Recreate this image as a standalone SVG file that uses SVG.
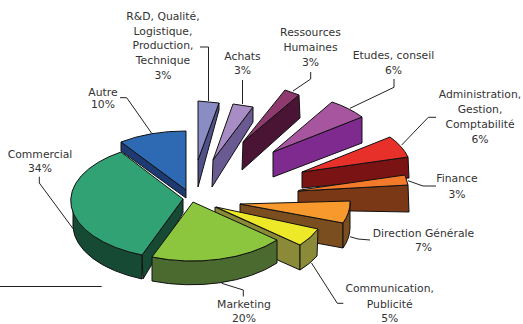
<svg xmlns="http://www.w3.org/2000/svg" width="523" height="324" viewBox="0 0 523 324">
<style>
.s{stroke:#111;stroke-width:1;stroke-linejoin:round}
.lbl{font-family:"DejaVu Sans","Liberation Sans",sans-serif;font-size:10.8px;fill:#333;text-anchor:middle}
.ld{fill:none;stroke:#222;stroke-width:1}
</style>
<rect width="523" height="324" fill="#fff"/>
<g id="rd">
<polygon class="s" fill="#50508a" points="198,160 219,103 219,110 198,187"/>
<polygon class="s" fill="#8a8cc4" points="198,101 219,103 198,160"/>
</g>
<g id="achats">
<polygon class="s" fill="#6a5a92" points="213,160 253,107 253,122 212,187"/>
<polygon class="s" fill="#a88cc4" points="233,104 253,107 213,160"/>
</g>
<g id="rh">
<polygon class="s" fill="#4a1535" points="243,142 299,95 300,118 242,170"/>
<polygon class="s" fill="#8e3a6e" points="285,90 299,95 243,142"/>
</g>
<g id="etudes">
<polygon class="s" fill="#7e2a8e" points="273,152 362,117 362,143 273,177"/>
<path class="s" fill="#a855a0" d="M273,152 L332,102 A110,58 0 0,1 362,117 Z"/>
</g>
<g id="admin">
<polygon class="s" fill="#7a1414" points="302,172 408,157 409,178 302,188"/>
<path class="s" fill="#e8302a" d="M302,172 L390,137 A110,58 0 0,1 408,157 Z"/>
</g>
<g id="finance">
<polygon class="s" fill="#7a3816" points="298,191 408,185 409,212 298,210"/>
<polygon class="s" fill="#f37a2a" points="300,190 405,175 408,185 298,191"/>
</g>
<g id="dg">
<polygon class="s" fill="#7a4e1e" points="240,204 343,223 343,248 240,229"/>
<path class="s" fill="#7a4e1e" d="M350,201 A110,58 0 0,1 343,223 L343,248 A110,58 0 0,0 350,228 Z"/>
<path class="s" fill="#f7992c" d="M240,204 L350,201 A110,58 0 0,1 343,223 Z"/>
</g>
<g id="comm">
<polygon class="s" fill="#8a8a38" points="215,207 300,245 300,270 215,232"/>
<path class="s" fill="#8a8a38" d="M318,229 A110,58 0 0,1 300,245 L300,270 A110,58 0 0,0 317,256 Z"/>
<path class="s" fill="#ede828" d="M216,207 L318,229 A110,58 0 0,1 300,245 Z"/>
</g>
<g id="autre">
<polygon class="s" fill="#1e3a72" points="121,142 186,190 186,198 121,151"/>
<path class="s" fill="#2e6ab4" d="M186,190 L121,142 A110,58 0 0,1 186,131 Z"/>
</g>
<g id="commercial">
<polygon class="s" fill="#174a34" points="183,199 183,213 143,279 142,255"/>
<path class="s" fill="#174a34" d="M73,202 A110,58 0 0,0 142,255 L142,279 A110,58 0 0,1 73,227 Z"/>
<path class="s" fill="#30a274" d="M183,199 L121,152 A110,58 0 0,0 142,255 Z"/>
</g>
<g id="marketing">
<path class="s" fill="#4a6a30" d="M152,257 A110,58 0 0,0 277,240 L277,263 A110,58 0 0,1 152,281 Z"/>
<path class="s" fill="#8cc63f" d="M193,202 L152,257 A110,58 0 0,0 277,240 Z"/>
</g>
<g id="connectors">
<polyline class="ld" points="200,47 208.5,47 208.5,101"/>
<polyline class="ld" points="242.5,80 242.5,104"/>
<polyline class="ld" points="310.7,72 310.7,79 293,91"/>
<polyline class="ld" points="394,79 394,87.3 350,108.3"/>
<polyline class="ld" points="436,117.3 428.3,117.3 401.7,145"/>
<polyline class="ld" points="436,186 423,186 408,180.7"/>
<polyline class="ld" points="370,240 358,239 350,236.7"/>
<polyline class="ld" points="343.3,303.3 337.3,303.3 311.5,263"/>
<polyline class="ld" points="221.7,283.3 243.3,290 243.3,296.5"/>
<polyline class="ld" points="39.3,176.7 39.3,183 73.3,229"/>
<polyline class="ld" points="120,97.7 126.7,97.7 151.7,133.3"/>
<line class="ld" x1="0" y1="286.5" x2="101.7" y2="286.5"/>
</g>
<g id="labels">
<text class="lbl" x="163" y="20">R&amp;D, Qualité,</text>
<text class="lbl" x="163" y="34.7">Logistique,</text>
<text class="lbl" x="163" y="49.4">Production,</text>
<text class="lbl" x="163" y="64">Technique</text>
<text class="lbl" x="163" y="78.7">3%</text>
<text class="lbl" x="242.5" y="59.5">Achats</text>
<text class="lbl" x="242.5" y="74">3%</text>
<text class="lbl" x="310.5" y="35.5">Ressources</text>
<text class="lbl" x="310.5" y="50.5">Humaines</text>
<text class="lbl" x="310.5" y="65.5">3%</text>
<text class="lbl" x="393.5" y="59">Etudes, conseil</text>
<text class="lbl" x="393.5" y="74">6%</text>
<text class="lbl" x="480" y="98">Administration,</text>
<text class="lbl" x="480" y="113">Gestion,</text>
<text class="lbl" x="480" y="128">Comptabilité</text>
<text class="lbl" x="480" y="143">6%</text>
<text class="lbl" x="457" y="182">Finance</text>
<text class="lbl" x="457" y="197.5">3%</text>
<text class="lbl" x="423.5" y="236.5">Direction Générale</text>
<text class="lbl" x="423.5" y="251">7%</text>
<text class="lbl" x="389.7" y="292.3">Communication,</text>
<text class="lbl" x="389.7" y="307.5">Publicité</text>
<text class="lbl" x="389.7" y="321.5">5%</text>
<text class="lbl" x="244" y="308.3">Marketing</text>
<text class="lbl" x="244" y="321.5">20%</text>
<text class="lbl" x="40" y="158">Commercial</text>
<text class="lbl" x="40" y="171.5">34%</text>
<text class="lbl" x="103" y="95.5">Autre</text>
<text class="lbl" x="103" y="108">10%</text>
</g>
</svg>
